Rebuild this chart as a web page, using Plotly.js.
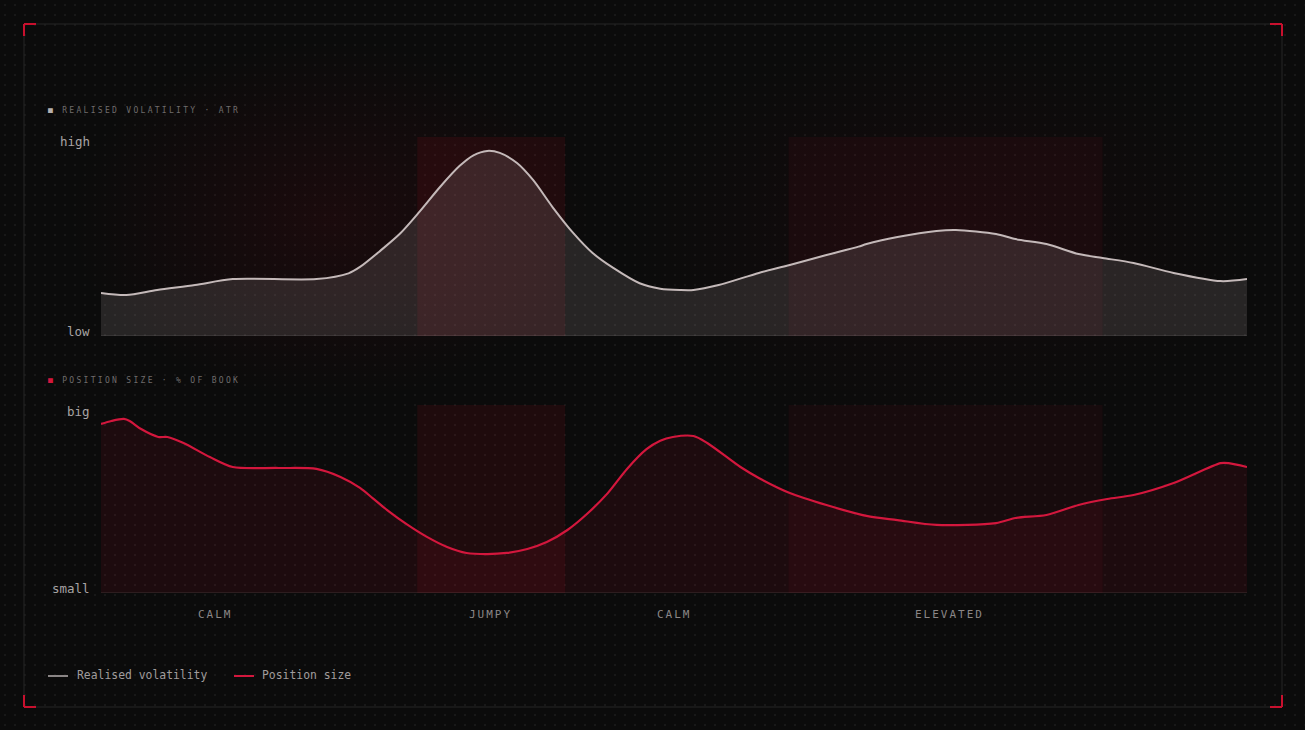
<!DOCTYPE html>
<html>
<head>
<meta charset="utf-8">
<script src="https://cdn.plot.ly/plotly-3.0.1.min.js"></script>
<style>
  html, body { margin:0; padding:0; width:1305px; height:730px; overflow:hidden; }
  body {
    background-color:#0b0b0b;
    background-image:
      radial-gradient(ellipse 260px 180px at 330px 220px, rgba(110,10,22,0.16), rgba(0,0,0,0)),
      radial-gradient(ellipse 320px 200px at 940px 230px, rgba(90,10,20,0.10), rgba(0,0,0,0)),
      radial-gradient(circle, rgba(255,255,255,0.055) 0.8px, rgba(0,0,0,0) 1.2px);
    background-size: auto, auto, 10px 10px;
  }
  #chart { width:1305px; height:730px; }
  .annotation[data-index="0"] text, .annotation[data-index="1"] text { letter-spacing:2.3px; }
  .annotation[data-index="2"] text, .annotation[data-index="3"] text,
  .annotation[data-index="4"] text, .annotation[data-index="5"] text { letter-spacing:2px; }
</style>
</head>
<body>
<div id="chart"></div>
<script>
// ---- data (x: timeline 0..100, y: 0 = low/small, 100 = high/big) ----
const volX = [0, 2.2, 4.9, 8.2, 11.5, 18.8, 21.6, 22.6, 24.3, 26.1, 27.8, 29.6, 31.3, 32.5, 33.7, 34.8, 36.3, 37.7, 39.4, 41.2, 42.9, 44.7, 47.0, 48.8, 50.5, 51.7, 53.9, 57.4, 60.1, 63.3, 66.1, 66.8, 69.5, 72.9, 74.6, 78.1, 79.8, 82.5, 85.3, 87.4, 90.1, 93.6, 97.7, 100];
const volY = [21.6, 20.6, 23.1, 25.6, 28.6, 28.6, 31.5, 34.7, 42.5, 51.5, 62.5, 75.0, 85.5, 90.8, 93.0, 92.0, 86.9, 78.4, 64.8, 51.8, 41.7, 34.2, 26.5, 23.8, 23.1, 23.1, 25.6, 31.7, 35.7, 40.7, 44.9, 46.2, 49.7, 52.8, 53.3, 51.3, 48.7, 46.2, 41.2, 39.2, 36.7, 31.7, 27.6, 28.6];

const posX = [0, 0.9, 2.0, 2.5, 3.5, 5.0, 5.8, 7.2, 9.5, 11.5, 15.5, 18.8, 20.9, 22.6, 23.7, 25.0, 26.7, 28.4, 30.2, 31.9, 33.7, 35.4, 37.2, 38.9, 40.7, 42.4, 44.2, 45.9, 47.6, 48.8, 49.9, 51.7, 52.9, 55.8, 57.4, 60.1, 63.3, 66.8, 69.5, 72.9, 78.1, 79.8, 82.5, 85.3, 87.8, 90.1, 93.6, 97.7, 98.4, 100];
const posY = [89.9, 91.5, 92.6, 91.5, 87.2, 83.0, 83.0, 79.8, 72.3, 67.0, 66.5, 66.0, 61.7, 55.9, 50.5, 44.0, 36.5, 30.0, 24.5, 21.3, 20.7, 21.3, 23.4, 27.1, 33.5, 42.0, 53.0, 66.0, 76.5, 81.0, 83.0, 83.5, 79.8, 67.0, 61.2, 53.2, 46.8, 41.0, 38.8, 36.2, 37.2, 39.9, 41.5, 46.8, 50.0, 52.1, 58.5, 69.1, 69.1, 67.0];

const regimeLabels = ["CALM", "JUMPY", "CALM", "ELEVATED"];
const regimeLabelX = [10, 34, 50, 74];
const shadedNames = ["JUMPY", "ELEVATED"];
const shadedStart = [27.6, 60.0];
const shadedEnd = [40.5, 87.4];

const volTicks = ["high", "low"];
const posTicks = ["big", "small"];
const panelTitles = ["REALISED VOLATILITY · ATR", "POSITION SIZE · % OF BOOK"];
const seriesNames = ["Realised volatility", "Position size"];

// ---- layout helpers (pixel -> paper) ----
const W = 1305, H = 730;
const px = v => v / W;
const py = v => 1 - v / H;

const GREY = '#c4b9b9';
const RED = '#d3173d';
const MONO = 'DejaVu Sans Mono, Liberation Mono, monospace';

const traces = [
  { x: volX, y: volY, xaxis: 'x', yaxis: 'y', type: 'scatter', mode: 'lines',
    line: { color: GREY, width: 2, shape: 'spline', smoothing: 0.8 },
    fill: 'tozeroy', fillcolor: 'rgba(215,200,200,0.14)', name: seriesNames[0], hoverinfo: 'skip' },
  { x: posX, y: posY, xaxis: 'x2', yaxis: 'y2', type: 'scatter', mode: 'lines',
    line: { color: RED, width: 2.2, shape: 'spline', smoothing: 0.8 },
    fill: 'tozeroy', fillcolor: 'rgba(200,20,50,0.10)', name: seriesNames[1], hoverinfo: 'skip' }
];

const shapes = [];
// regime shading in both panels
shadedNames.forEach((n, i) => {
  const col = i === 0 ? 'rgba(200,20,40,0.11)' : 'rgba(200,20,40,0.065)';
  ['y', 'y2'].forEach((ya, k) => {
    shapes.push({ type: 'rect', xref: k === 0 ? 'x' : 'x2', yref: ya, x0: shadedStart[i], x1: shadedEnd[i], y0: 0, y1: 100,
      fillcolor: col, line: { width: 0 }, layer: 'below' });
  });
});
// baselines
shapes.push({ type: 'line', xref: 'x', yref: 'y', x0: 0, x1: 100, y0: 0, y1: 0, line: { color: 'rgba(255,255,255,0.10)', width: 1.5 } });
shapes.push({ type: 'line', xref: 'x2', yref: 'y2', x0: 0, x1: 100, y0: 0, y1: 0, line: { color: 'rgba(255,255,255,0.10)', width: 1.5 } });
// frame
shapes.push({ type: 'rect', xref: 'paper', yref: 'paper', x0: px(24), x1: px(1282), y0: py(707), y1: py(24),
  line: { color: '#262626', width: 1 }, fillcolor: 'rgba(0,0,0,0)' });
// red corner marks
const cl = 12, red2 = { color: '#c8102e', width: 2 };
[[24, 24, 1, 1], [1282, 24, -1, 1], [24, 707, 1, -1], [1282, 707, -1, -1]].forEach(c => {
  const [cx, cy, dx, dy] = c;
  shapes.push({ type: 'line', xref: 'paper', yref: 'paper', x0: px(cx), x1: px(cx + dx * cl), y0: py(cy), y1: py(cy), line: red2 });
  shapes.push({ type: 'line', xref: 'paper', yref: 'paper', x0: px(cx), x1: px(cx), y0: py(cy), y1: py(cy + dy * cl), line: red2 });
});
// legend line swatches
shapes.push({ type: 'line', xref: 'paper', yref: 'paper', x0: px(48), x1: px(68), y0: py(676), y1: py(676), line: { color: '#8a8585', width: 2 } });
shapes.push({ type: 'line', xref: 'paper', yref: 'paper', x0: px(234), x1: px(254), y0: py(676), y1: py(676), line: { color: RED, width: 2 } });

const annotations = [];
// 0,1: panel titles
annotations.push({ xref: 'paper', yref: 'paper', x: px(46), y: py(111), xanchor: 'left', yanchor: 'middle', align: 'left', showarrow: false,
  text: '<span style="color:#b5b0b0">■</span> ' + panelTitles[0], font: { family: MONO, size: 8, color: '#6f6b6b' } });
annotations.push({ xref: 'paper', yref: 'paper', x: px(46), y: py(380), xanchor: 'left', yanchor: 'middle', align: 'left', showarrow: false,
  text: '<span style="color:' + RED + '">■</span> ' + panelTitles[1], font: { family: MONO, size: 8, color: '#6f6b6b' } });
// 2..5: regime labels
regimeLabels.forEach((t, i) => {
  annotations.push({ xref: 'x2', yref: 'paper', x: regimeLabelX[i], y: py(614), xanchor: 'center', yanchor: 'middle', showarrow: false,
    text: t, font: { family: MONO, size: 11, color: '#8a8686' } });
});
// axis word labels
const tickFont = { family: MONO, size: 12.5, color: '#a8a4a4' };
annotations.push({ xref: 'paper', yref: 'paper', x: px(92), y: py(142), xanchor: 'right', yanchor: 'middle', showarrow: false, text: volTicks[0], font: tickFont });
annotations.push({ xref: 'paper', yref: 'paper', x: px(92), y: py(331), xanchor: 'right', yanchor: 'middle', showarrow: false, text: volTicks[1], font: tickFont });
annotations.push({ xref: 'paper', yref: 'paper', x: px(92), y: py(411), xanchor: 'right', yanchor: 'middle', showarrow: false, text: posTicks[0], font: tickFont });
annotations.push({ xref: 'paper', yref: 'paper', x: px(92), y: py(588), xanchor: 'right', yanchor: 'middle', showarrow: false, text: posTicks[1], font: tickFont });
// legend text
const legFont = { family: MONO, size: 11.4, color: '#a09c9c' };
annotations.push({ xref: 'paper', yref: 'paper', x: px(75), y: py(675), xanchor: 'left', yanchor: 'middle', showarrow: false, text: seriesNames[0], font: legFont });
annotations.push({ xref: 'paper', yref: 'paper', x: px(260), y: py(675), xanchor: 'left', yanchor: 'middle', showarrow: false, text: seriesNames[1], font: legFont });

const axisBase = { showgrid: false, zeroline: false, showticklabels: false, showline: false, ticks: '', fixedrange: true };

const layout = {
  width: W, height: H,
  margin: { l: 0, r: 0, t: 0, b: 0 },
  paper_bgcolor: 'rgba(0,0,0,0)',
  plot_bgcolor: 'rgba(0,0,0,0)',
  showlegend: false,
  xaxis: Object.assign({}, axisBase, { domain: [px(101), px(1247)], range: [0, 100], anchor: 'y' }),
  xaxis2: Object.assign({}, axisBase, { domain: [px(101), px(1247)], range: [0, 100], anchor: 'y2', matches: 'x' }),
  yaxis: Object.assign({}, axisBase, { domain: [py(336), py(137)], range: [0, 100], anchor: 'x' }),
  yaxis2: Object.assign({}, axisBase, { domain: [py(593), py(405)], range: [0, 100], anchor: 'x2' }),
  shapes: shapes,
  annotations: annotations
};

Plotly.newPlot('chart', traces, layout, { displayModeBar: false, staticPlot: true });
</script>
</body>
</html>
